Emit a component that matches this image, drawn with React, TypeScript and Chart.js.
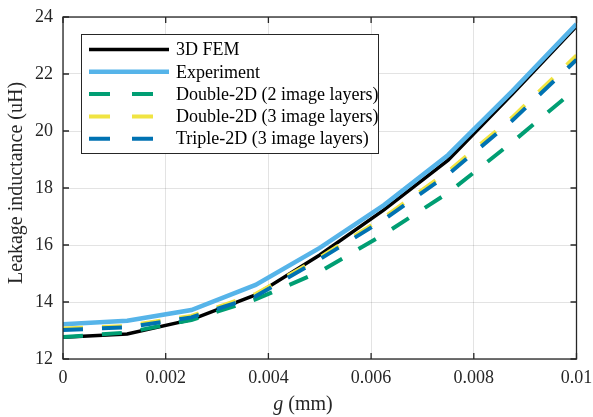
import React, { useEffect, useRef } from 'react';
import { Chart, registerables } from 'chart.js';

Chart.register(...registerables);

// g (mm) sample positions
const gValues = [0, 0.00125, 0.0025, 0.00375, 0.005, 0.00625, 0.0075, 0.00875, 0.01];
// Leakage inductance (uH)
const fem3d = [12.76, 12.88, 13.38, 14.25, 15.65, 17.23, 18.98, 21.3, 23.68];
const experiment = [13.22, 13.34, 13.72, 14.6, 15.9, 17.4, 19.16, 21.4, 23.75];
const double2d2 = [12.77, 12.93, 13.37, 14.09, 15.06, 16.38, 17.83, 19.61, 21.5];
const double2d3 = [13.07, 13.16, 13.51, 14.28, 15.56, 16.97, 18.58, 20.48, 22.65];
const triple2d3 = [13.02, 13.11, 13.46, 14.2, 15.5, 16.89, 18.48, 20.37, 22.5];

const seriesLabels = [
  '3D FEM',
  'Experiment',
  'Double-2D (2 image layers)',
  'Double-2D (3 image layers)',
  'Triple-2D (3 image layers)',
];
const xTickLabels = ['0', '0.002', '0.004', '0.006', '0.008', '0.01'];
const yTickLabels = ['12', '14', '16', '18', '20', '22', '24'];

const SERIF = "'Liberation Serif', 'Times New Roman', serif";
const AXIS_COLOR = '#262626';

const toPoints = (ys: number[]) => gValues.map((x, i) => ({ x, y: ys[i] }));

const boxPlugin = {
  id: 'matlabBox',
  afterDraw(chart: any) {
    const { ctx, chartArea, scales } = chart;
    const { left, right, top, bottom } = chartArea;
    ctx.save();
    // axes box
    ctx.strokeStyle = AXIS_COLOR;
    ctx.lineWidth = 1.3;
    ctx.strokeRect(left, top, right - left, bottom - top);
    // inner ticks
    const tl = 6;
    ctx.beginPath();
    scales.x.ticks.forEach((t: any) => {
      const px = scales.x.getPixelForValue(t.value);
      ctx.moveTo(px, bottom);
      ctx.lineTo(px, bottom - tl);
      ctx.moveTo(px, top);
      ctx.lineTo(px, top + tl);
    });
    scales.y.ticks.forEach((t: any) => {
      const py = scales.y.getPixelForValue(t.value);
      ctx.moveTo(left, py);
      ctx.lineTo(left + tl, py);
      ctx.moveTo(right, py);
      ctx.lineTo(right - tl, py);
    });
    ctx.stroke();

    // x title: italic g + " (mm)"
    ctx.fillStyle = AXIS_COLOR;
    ctx.textBaseline = 'middle';
    ctx.font = `italic 20px ${SERIF}`;
    const gW = ctx.measureText('g').width;
    ctx.font = `20px ${SERIF}`;
    const restW = ctx.measureText(' (mm)').width;
    const cx = 303;
    let sx = cx - (gW + restW) / 2;
    ctx.textAlign = 'left';
    ctx.font = `italic 20px ${SERIF}`;
    ctx.fillText('g', sx, 405);
    ctx.font = `20px ${SERIF}`;
    ctx.fillText(' (mm)', sx + gW, 405);

    // y title
    ctx.save();
    ctx.translate(17, 183);
    ctx.rotate(-Math.PI / 2);
    ctx.textAlign = 'center';
    ctx.fillText('Leakage inductance (uH)', 0, 0);
    ctx.restore();

    // legend
    const lx = 81.5, ly = 34.5, lw = 297, lh = 119;
    ctx.fillStyle = '#ffffff';
    ctx.fillRect(lx, ly, lw, lh);
    ctx.strokeStyle = AXIS_COLOR;
    ctx.lineWidth = 1;
    ctx.strokeRect(lx, ly, lw, lh);
    chart.data.datasets.forEach((ds: any, i: number) => {
      const y = 49.5 + i * 22.3;
      ctx.beginPath();
      ctx.strokeStyle = ds.borderColor;
      ctx.lineWidth = ds.borderWidth;
      ctx.setLineDash(ds.borderDash && ds.borderDash.length ? [21, 22] : []);
      ctx.lineCap = 'butt';
      ctx.moveTo(89, y);
      ctx.lineTo(169, y);
      ctx.stroke();
      ctx.setLineDash([]);
      ctx.fillStyle = '#000';
      ctx.font = `18px ${SERIF}`;
      ctx.textAlign = 'left';
      ctx.textBaseline = 'middle';
      ctx.fillText(ds.label, 176, y + 1);
    });
    ctx.restore();
  },
};

export default function App() {
  const canvasRef = useRef<HTMLCanvasElement>(null);

  useEffect(() => {
    if (!canvasRef.current) return;
    const dashed = [20, 19];
    const chart = new Chart(canvasRef.current, {
      type: 'line',
      data: {
        datasets: [
          { label: seriesLabels[0], data: toPoints(fem3d), borderColor: '#000000', borderWidth: 3.5, order: 5 },
          { label: seriesLabels[1], data: toPoints(experiment), borderColor: '#56B4E9', borderWidth: 4.5, order: 4 },
          { label: seriesLabels[2], data: toPoints(double2d2), borderColor: '#009E73', borderWidth: 4, borderDash: dashed, order: 3 },
          { label: seriesLabels[3], data: toPoints(double2d3), borderColor: '#F0E442', borderWidth: 4, borderDash: dashed, order: 2 },
          { label: seriesLabels[4], data: toPoints(triple2d3), borderColor: '#0072B2', borderWidth: 4, borderDash: dashed, order: 1 },
        ] as any,
      },
      options: {
        animation: false,
        responsive: false,
        events: [],
        layout: { padding: { top: 17, right: 16.5, left: 0, bottom: 0 } },
        elements: { point: { radius: 0 }, line: { tension: 0, borderCapStyle: 'butt' } },
        plugins: { legend: { display: false }, tooltip: { enabled: false } },
        scales: {
          x: {
            type: 'linear',
            min: 0,
            max: 0.01,
            afterFit: (s: any) => { s.height = 58; s.paddingLeft = 0; s.paddingRight = 0; },
            ticks: {
              stepSize: 0.002,
              padding: 8,
              maxRotation: 0,
              color: AXIS_COLOR,
              font: { family: SERIF, size: 18 },
              callback: (_v: any, i: number) => xTickLabels[i],
            },
            grid: { color: 'rgba(38,38,38,0.13)', drawTicks: false, lineWidth: 1 },
            border: { display: false },
          },
          y: {
            type: 'linear',
            min: 12,
            max: 24,
            afterFit: (s: any) => { s.width = 63; s.paddingTop = 0; s.paddingBottom = 0; },
            ticks: {
              stepSize: 2,
              padding: 10,
              color: AXIS_COLOR,
              font: { family: SERIF, size: 18 },
              callback: (_v: any, i: number) => yTickLabels[i],
            },
            grid: { color: 'rgba(38,38,38,0.13)', drawTicks: false, lineWidth: 1 },
            border: { display: false },
          },
        },
      } as any,
      plugins: [boxPlugin],
    });
    return () => chart.destroy();
  }, []);

  return (
    <div style={{ position: 'absolute', left: 0, top: 0, width: 593, height: 417, background: '#fff' }}>
      <canvas ref={canvasRef} width={593} height={417} />
    </div>
  );
}
